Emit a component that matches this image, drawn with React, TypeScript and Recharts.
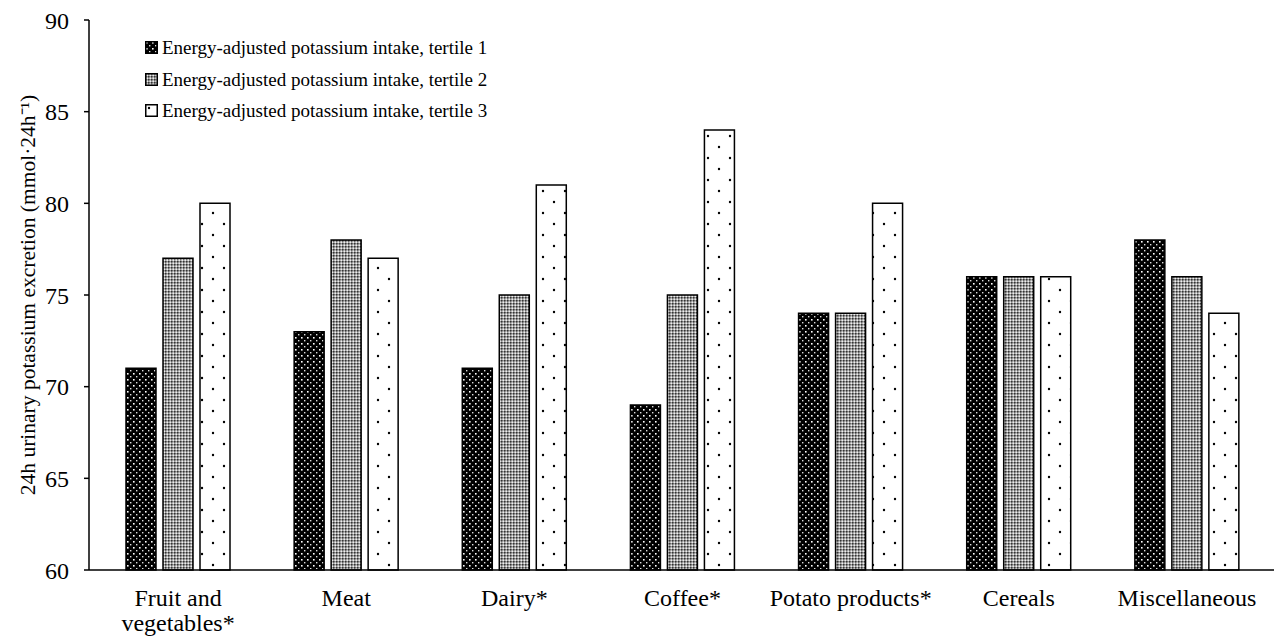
import { BarChart, Bar, XAxis, YAxis } from "recharts";

const categories = [
  "Fruit and vegetables*",
  "Meat",
  "Dairy*",
  "Coffee*",
  "Potato products*",
  "Cereals",
  "Miscellaneous",
];
const tertile1 = [71, 73, 71, 69, 74, 76, 78];
const tertile2 = [77, 78, 75, 75, 74, 76, 76];
const tertile3 = [80, 77, 81, 84, 80, 76, 74];
const yTicks = [60, 65, 70, 75, 80, 85, 90];
const seriesNames = [
  "Energy-adjusted potassium intake, tertile 1",
  "Energy-adjusted potassium intake, tertile 2",
  "Energy-adjusted potassium intake, tertile 3",
];

const data = categories.map((c, i) => ({
  name: c,
  t1: tertile1[i],
  t2: tertile2[i],
  t3: tertile3[i],
}));

const font = '"Liberation Serif", "Times New Roman", serif';

// split long labels onto two lines like the original
const tickLines: Record<string, string[]> = {
  "Fruit and vegetables*": ["Fruit and", "vegetables*"],
};

function CategoryTick(props: any) {
  const { x, y, payload } = props;
  const lines = tickLines[payload.value] || [payload.value];
  return (
    <text x={x} y={y} textAnchor="middle" fontFamily={font} fontSize={24} fill="#000">
      {lines.map((l, i) => (
        <tspan key={i} x={x} dy={i === 0 ? 28 : 25}>
          {l}
        </tspan>
      ))}
    </text>
  );
}

function LegendBox() {
  const fills = ["url(#pDark)", "url(#pMid)", "url(#pLight)"];
  return (
    <div
      style={{
        position: "absolute",
        left: 145,
        top: 32,
        fontFamily: font,
        fontSize: 19,
        lineHeight: "31.5px",
        color: "#000",
      }}
    >
      {seriesNames.map((n, i) => (
        <div key={n} style={{ display: "flex", alignItems: "center" }}>
          <svg width={13} height={13} style={{ marginRight: 4 }}>
            <rect x={0.75} y={0.75} width={11.5} height={11.5} fill={fills[i]} stroke="#000" strokeWidth={1.5} />
          </svg>
          {n}
        </div>
      ))}
    </div>
  );
}

export default function App() {
  return (
    <div style={{ position: "absolute", left: 0, top: 0, width: 1275, height: 638, background: "#fff" }}>
      <BarChart
        width={1275}
        height={638}
        data={data}
        margin={{ top: 20, right: 1, left: 29, bottom: 8 }}
        barSize={30}
        barGap={7}
      >
        <defs>
          <pattern id="pDark" width={6} height={6} patternUnits="userSpaceOnUse">
            <rect width={6} height={6} fill="#000" />
            <rect x={1} y={1} width={1.6} height={1.6} fill="#fff" />
            <rect x={4} y={4} width={1.4} height={1.4} fill="#ddd" />
          </pattern>
          <pattern id="pMid" width={3} height={3} patternUnits="userSpaceOnUse">
            <rect width={3} height={3} fill="#9a9a9a" />
            <rect width={1.5} height={1.5} fill="#333" />
            <rect x={1.5} y={1.5} width={1.5} height={1.5} fill="#eee" />
          </pattern>
          <pattern id="pLight" width={22} height={22} patternUnits="userSpaceOnUse">
            <rect width={22} height={22} fill="#fff" />
            <circle cx={4} cy={4} r={1.2} fill="#000" />
            <circle cx={15} cy={15} r={1.2} fill="#000" />
          </pattern>
        </defs>
        <XAxis
          dataKey="name"
          tickLine={false}
          axisLine={{ stroke: "#000", strokeWidth: 1.5 }}
          tick={<CategoryTick />}
          interval={0}
          height={60}
          padding={{ left: 5, right: 3 }}
        />
        <YAxis
          domain={[60, 90]}
          ticks={yTicks}
          width={60}
          tickSize={5}
          tickMargin={15}
          tickLine={{ stroke: "#000", strokeWidth: 1.5 }}
          axisLine={{ stroke: "#000", strokeWidth: 1.5 }}
          tick={{ fontFamily: font, fontSize: 24, fill: "#000" }}
          label={{
            value: "24h urinary potassium excretion (mmol·24h⁻¹)",
            angle: -90,
            position: "insideLeft",
            dx: -7,
            style: { fontFamily: font, fontSize: 21.5, fill: "#000", textAnchor: "middle" },
          }}
        />
        <Bar dataKey="t1" name={seriesNames[0]} fill="url(#pDark)" stroke="#000" strokeWidth={1.5} isAnimationActive={false} />
        <Bar dataKey="t2" name={seriesNames[1]} fill="url(#pMid)" stroke="#000" strokeWidth={1.5} isAnimationActive={false} />
        <Bar dataKey="t3" name={seriesNames[2]} fill="url(#pLight)" stroke="#000" strokeWidth={1.5} isAnimationActive={false} />
      </BarChart>
      <LegendBox />
    </div>
  );
}
